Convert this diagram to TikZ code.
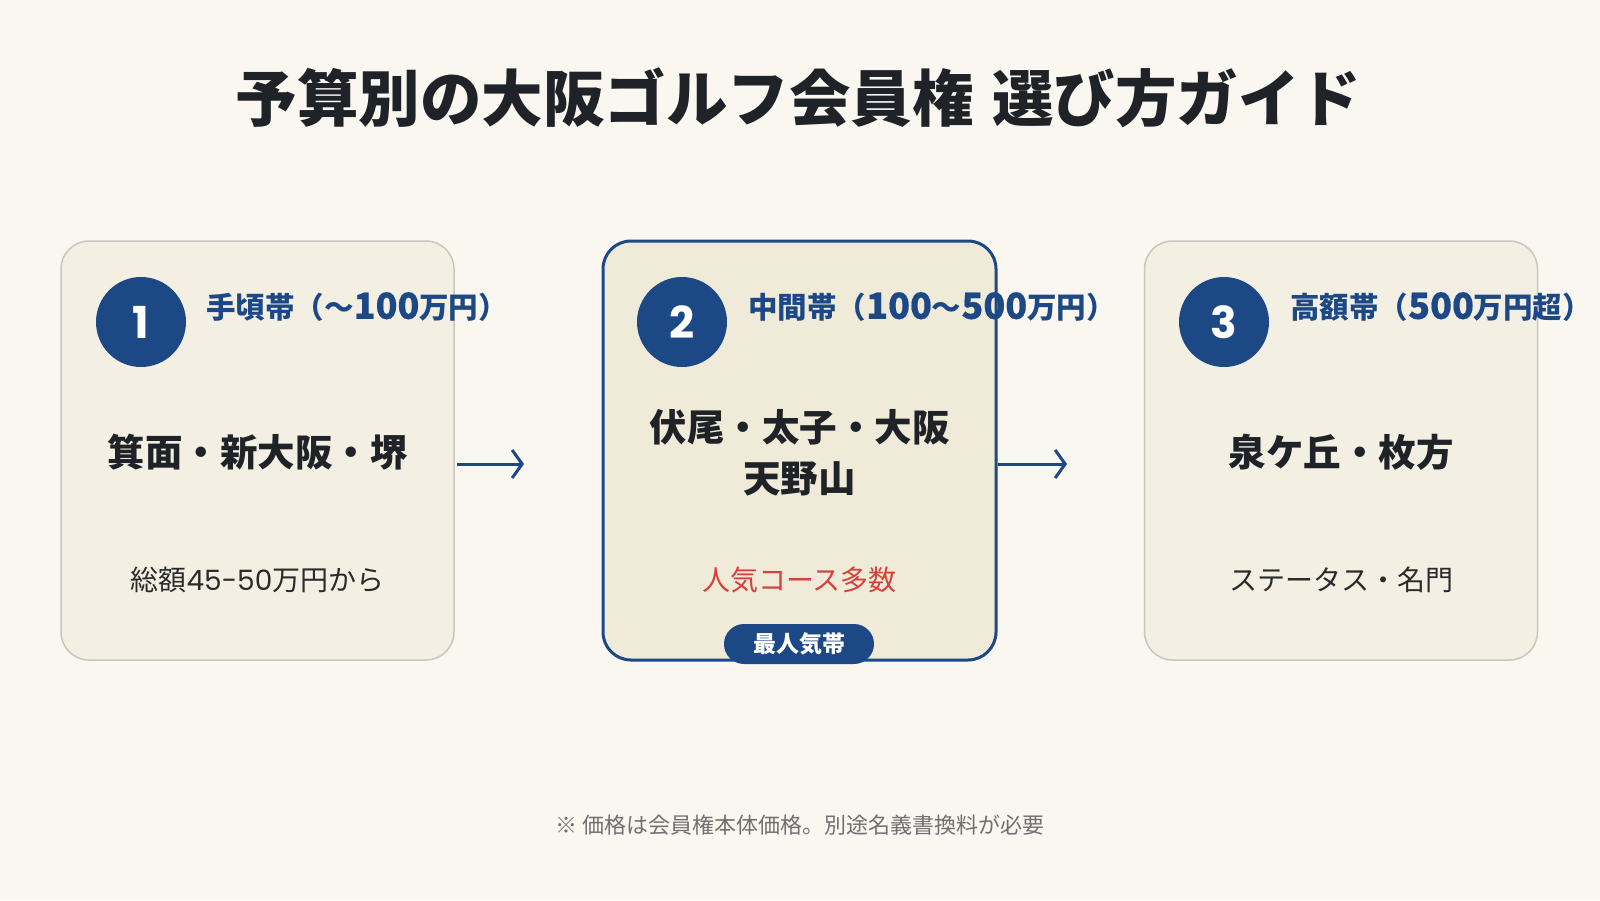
\documentclass[tikz,border=0pt]{standalone}
\usepackage{fontspec}
\setmainfont{Noto Sans CJK JP}
\newfontfamily\pop{Poppins}
\newfontfamily\dgfont{Noto Sans CJK JP}[FakeBold=0.5]
\newcommand\dg[1]{{\fontsize{36}{36}\selectfont\dgfont #1}}
\usetikzlibrary{arrows.meta}
\definecolor{bg}{HTML}{F9F7F0}
\definecolor{cardfill}{HTML}{F3EFE3}
\definecolor{cardfill2}{HTML}{F0EAD9}
\definecolor{cardline}{HTML}{C8C6C0}
\definecolor{blue1}{HTML}{1D4886}
\definecolor{ink}{HTML}{1F2328}
\definecolor{ink2}{HTML}{2A2A2A}
\definecolor{redtxt}{HTML}{D6423A}
\definecolor{note}{HTML}{707070}
\tikzset{
  card/.style={draw=cardline, line width=1.5pt, fill=cardfill, rounded corners=28pt,
    minimum width=393pt, minimum height=419pt, inner sep=0pt},
  featured/.style={card, draw=blue1, line width=3pt, fill=cardfill2},
  num/.style={circle, fill=blue1, minimum size=90pt, inner sep=0pt, text=white,
    font=\fontsize{44}{44}\selectfont\pop\bfseries},
  lbl/.style={anchor=west, text=blue1, inner sep=0pt, font=\fontsize{29.5}{29.5}\selectfont\bfseries},
  maintxt/.style={text=ink, inner sep=0pt, align=center, font=\fontsize{37.5}{51}\selectfont\bfseries},
  subtxt/.style={text=ink2, inner sep=0pt, font=\fontsize{28}{28}\selectfont},
  badge/.style={fill=blue1, rounded corners=20pt, minimum width=150pt, minimum height=40pt,
    inner sep=0pt, text=white, font=\fontsize{23}{23}\selectfont\bfseries},
  flow/.style={draw=blue1, line width=3pt, -{Straight Barb[length=10pt,width=28pt]}}
}
\begin{document}
\begin{tikzpicture}[x=1pt,y=-1pt]
\useasboundingbox[fill=bg] (0,0) rectangle (1600,900);
% title
\node[text=ink, inner sep=0pt, font=\fontsize{61.5}{61.5}\selectfont\bfseries] (title) at (798.5,98) {予算別の大阪ゴルフ会員権\hspace{0.3em}選び方ガイド};
% cards
\node[card] (b1) at (257.5,450.5) {};
\node[featured] (b2) at (799.5,450.5) {};
\node[card] (b3) at (1341,450.5) {};
% numbers
\node[num] (n1) at (141,322) {1};
\node[num] (n2) at (682,322) {2};
\node[num] (n3) at (1224,322) {3};
% labels
\node[lbl] (l1) at (206,307) {手頃帯（〜\dg{100}万円）};
\node[lbl] (l2) at (748,307) {中間帯（\dg{100}〜\dg{500}万円）};
\node[lbl] (l3) at (1290,307) {高額帯（\dg{500}万円超）};
% main texts
\node[maintxt] (m1) at (257.5,452) {箕面・新大阪・堺};
\node[maintxt] (m2) at (799.5,452.5) {伏尾・太子・大阪\\天野山};
\node[maintxt] (m3) at (1341,452) {泉ケ丘・枚方};
% sub texts
\node[subtxt] (s1) at (257.5,580) {総額{\pop 45-50}万円から};
\node[subtxt, text=redtxt] (s2) at (799.5,580) {人気コース多数};
\node[subtxt] (s3) at (1341,580) {ステータス・名門};
% badge
\node[badge] (bd) at (799,644) {最人気帯};
% arrows
\coordinate (a1s) at (457,464);
\coordinate (a1e) at (524,464);
\coordinate (a2s) at (998,464);
\coordinate (a2e) at (1067,464);
\draw[flow] (a1s) -- (a1e);
\draw[flow] (a2s) -- (a2e);
% footnote
\node[text=note, inner sep=0pt, font=\fontsize{22}{22}\selectfont] (fn) at (800,825.5) {※ 価格は会員権本体価格。別途名義書換料が必要};
\end{tikzpicture}
\end{document}
